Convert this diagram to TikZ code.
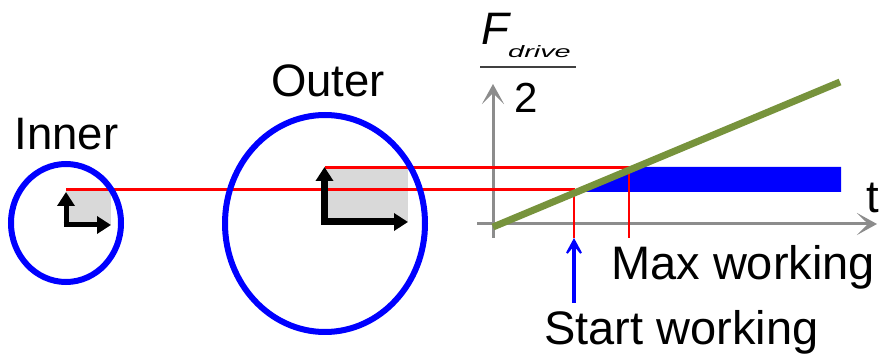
\documentclass[tikz,border=0pt]{standalone}
\usepackage{fontspec}
\setmainfont{Liberation Sans}
\usetikzlibrary{arrows.meta,shapes.geometric}
\definecolor{axgray}{HTML}{8C8C8C}
\definecolor{boxgray}{HTML}{D9D9D9}
\definecolor{olive}{HTML}{77933C}
\definecolor{barcol}{HTML}{404040}
\tikzset{
  ring/.style={draw=blue, line width=6pt, ellipse, inner sep=0pt},
  redline/.style={draw=red, line width=2.7pt},
  frame/.style={draw=black, line width=#1, -{Triangle[length=14pt,width=17pt]}},
  axis/.style={draw=axgray, line width=3pt, -{Stealth[length=20pt,width=22pt,inset=11pt]}},
  big/.style={inner sep=0pt, font=\fontsize{45.5pt}{54pt}\selectfont},
  bigger/.style={inner sep=0pt, font=\fontsize{47pt}{56pt}\selectfont},
}
\begin{document}
\begin{tikzpicture}[x=1pt,y=-1pt]
\useasboundingbox (0,0) rectangle (879,355);
% gray boxes
\fill[boxgray] (66,189.5) rectangle (111,225);
\fill[boxgray] (324.5,167.5) rectangle (408,222);
% graph axes
\coordinate (xs) at (477,224);
\coordinate (xe) at (877,224);
\coordinate (ys) at (493,238);
\coordinate (ye) at (493,84);
\draw[axis] (xs) -- (xe);
\draw[axis] (ys) -- (ye);
% blue band
\coordinate (b1) at (576,192);
\coordinate (b2) at (636,167);
\coordinate (b3) at (841,167);
\coordinate (b4) at (841,192);
\fill[blue] (b1) -- (b2) -- (b3) -- (b4) -- cycle;
% red lines
\coordinate (lowL) at (66,189.5);
\coordinate (lowC) at (574,189.5);
\coordinate (lowE) at (574,238);
\coordinate (upL) at (324.5,167.5);
\coordinate (upC) at (629,167.5);
\coordinate (upE) at (629,238);
\draw[redline] (lowL) -- (lowC) -- (lowE);
\draw[redline] (upL) -- (upC) -- (upE);
% green line
\coordinate (g1) at (493,227);
\coordinate (g2) at (840,82);
\draw[olive, line width=7pt] (g1) -- (g2);
% frames
\coordinate (ifc) at (66,225);
\coordinate (ifv) at (66,192);
\coordinate (ifh) at (111,225);
\draw[frame=5pt] ([xshift=-2.5pt]ifc) -- (ifh);
\draw[frame=5pt] ([yshift=2.5pt]ifc) -- (ifv);
\coordinate (ofc) at (324.5,222);
\coordinate (ofv) at (324.5,167);
\coordinate (ofh) at (408,222);
\draw[frame=7pt] ([xshift=-3.5pt]ofc) -- (ofh);
\draw[frame=7pt] ([yshift=3.5pt]ofc) -- (ofv);
% circles
\node[ring, minimum width=110pt, minimum height=118pt] (inner) at (66,223) {};
\node[ring, minimum width=200pt, minimum height=217pt] (outer) at (325,223.5) {};
% blue arrow
\coordinate (ba1) at (574,303);
\coordinate (ba2) at (574,238);
\draw[blue, line width=4pt, -{Stealth[length=24pt,width=26pt,inset=16pt]}] (ba1) -- (ba2);
% texts
\node[big, anchor=base] (tinner) at (66.5,150) {Inner};
\node[big, anchor=base] (touter) at (328,97) {Outer};
\node[bigger, anchor=base west] (tmax) at (611,280) {Max working};
\node[bigger, anchor=base west] (tstart) at (544,345) {Start working};
\node[big, anchor=base west] (tt) at (866,213) {t};
\node[big, anchor=base west] (tF) at (481,45) {\itshape F};
\node[inner sep=0pt, anchor=base west] (tdrive) at (508,58) {\scalebox{1.75}[1]{\fontsize{16.5pt}{20pt}\selectfont\itshape drive}};
\coordinate (fb1) at (480,67);
\coordinate (fb2) at (576,67);
\draw[barcol, line width=2pt] (fb1) -- (fb2);
\node[inner sep=0pt, anchor=base, font=\fontsize{42pt}{50pt}\selectfont] (t2) at (526,113) {2};
\end{tikzpicture}
\end{document}
